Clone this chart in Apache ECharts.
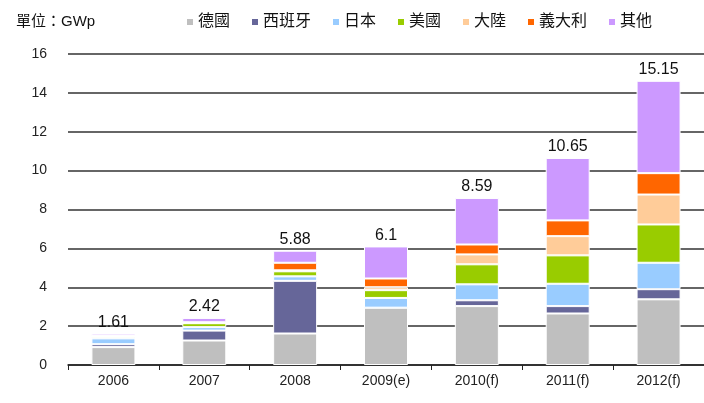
<!DOCTYPE html>
<html>
<head>
<meta charset="utf-8">
<script src="https://cdn.jsdelivr.net/npm/echarts@6/dist/echarts.min.js"></script>
<style>
  html, body { margin: 0; padding: 0; background: #fff; }
  #chart { width: 704px; height: 403px; }
</style>
</head>
<body>
<div id="chart"></div>
<script>
// 年份
var years = ['2006', '2007', '2008', '2009(e)', '2010(f)', '2011(f)', '2012(f)'];
// 各國安裝量 (GWp)
var germany = [0.92, 1.26, 1.62, 2.95, 3.03, 2.65, 3.38];
var spain   = [0.15, 0.51, 2.71, 0.00, 0.30, 0.38, 0.52];
var japan   = [0.30, 0.18, 0.23, 0.50, 0.82, 1.15, 1.36];
var usa     = [0.08, 0.20, 0.26, 0.40, 1.03, 1.46, 1.97];
var china   = [0.02, 0.02, 0.05, 0.15, 0.51, 0.99, 1.54];
var italy   = [0.02, 0.03, 0.39, 0.45, 0.51, 0.81, 1.10];
var others  = [0.12, 0.22, 0.62, 1.65, 2.39, 3.21, 4.75];
// 合計標籤
var totals = ['1.61', '2.42', '5.88', '6.1', '8.59', '10.65', '15.15'];
var yTicks = [0, 2, 4, 6, 8, 10, 12, 14, 16];

var font = 'Liberation Sans, Arial, "Noto Sans CJK TC", sans-serif';

var chart = echarts.init(document.getElementById('chart'));

function mk(name, data, color) {
    return {
        name: name,
        type: 'bar',
        stack: 'all',
        barWidth: 44,
        data: data,
        itemStyle: { color: color, borderColor: '#fff', borderWidth: 1 }
    };
}

var series = [
    mk('德國', germany, '#BFBFBF'),
    mk('西班牙', spain, '#666699'),
    mk('日本', japan, '#99CCFF'),
    mk('美國', usa, '#99CC00'),
    mk('大陸', china, '#FFCC99'),
    mk('義大利', italy, '#FF6600'),
    mk('其他', others, '#CC99FF')
];
// 最上層顯示合計
series[6].label = {
    show: true,
    position: 'top',
    distance: 3,
    color: '#111',
    fontSize: 16,
    fontFamily: font,
    formatter: function (p) { return totals[p.dataIndex]; }
};

var option = {
    animation: false,
    textStyle: { fontFamily: font },
    title: {
        text: '單位：GWp',
        left: 11,
        top: 9,
        textStyle: { fontSize: 15, fontWeight: 'normal', color: '#111', fontFamily: font }
    },
    legend: {
        left: 180,
        top: 9,
        itemWidth: 8,
        itemHeight: 8,
        itemGap: 20,
        icon: 'rect',
        textStyle: { fontSize: 16, color: '#111', fontFamily: font, padding: [0, 0, 0, -1] },
        data: ['德國', '西班牙', '日本', '美國', '大陸', '義大利', '其他']
    },
    grid: { left: 68, right: 0, top: 54, bottom: 38 },
    xAxis: {
        type: 'category',
        data: years,
        axisLine: { lineStyle: { color: '#222', width: 1.5 } },
        axisTick: { show: true, length: 5, lineStyle: { color: '#222' } },
        axisLabel: { color: '#222', fontSize: 14, margin: 9 }
    },
    yAxis: {
        type: 'value',
        min: yTicks[0],
        max: yTicks[yTicks.length - 1],
        interval: 2,
        axisLine: { show: false },
        axisTick: { show: false },
        axisLabel: { color: '#222', fontSize: 14, margin: 21 },
        splitLine: { lineStyle: { color: '#333', width: 1.5 } }
    },
    series: series
};

chart.setOption(option);
</script>
</body>
</html>
